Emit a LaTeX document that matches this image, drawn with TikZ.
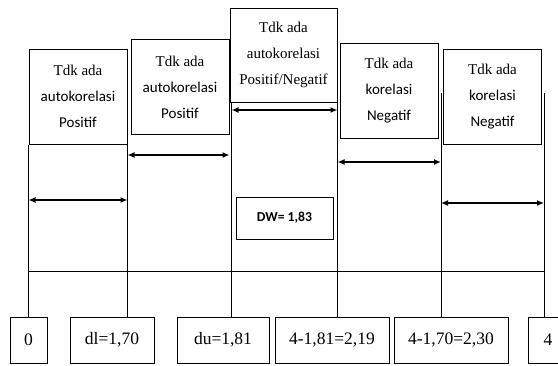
\documentclass[tikz,border=0pt]{standalone}
\usepackage{fontspec}
\setmainfont{Liberation Serif}
\newfontfamily\calib{Carlito}
\usetikzlibrary{arrows.meta}
\begin{document}
\begin{tikzpicture}[x=1pt, y=-1pt, line width=1pt,
    kotak/.style={draw, inner sep=0pt, align=center, minimum width=98pt, minimum height=95pt, font=\fontsize{15}{26}\selectfont},
    batas/.style={draw, inner sep=0pt, minimum height=46pt, font=\fontsize{17.5}{19}\selectfont},
    panah/.style={{Latex[length=7pt,width=6pt]}-{Latex[length=7pt,width=6pt]}, line width=1.3pt}]
  \useasboundingbox (0,0) rectangle (558,365);

  % 1. kotak keputusan di atas
  \node[kotak] (posA) at (78,96.5) {Tdk ada\\{\calib autokorelasi}\\{\calib Positif}};
  \node[kotak] (posB) at (180,87) {Tdk ada\\{\calib autokorelasi}\\{\calib Positif}};
  \node[kotak, minimum width=107pt, minimum height=94pt] (ragu) at (283.5,55) {Tdk ada\\autokorelasi\\Positif/Negatif};
  \node[kotak] (negA) at (389,90.5) {Tdk ada\\{\calib korelasi}\\{\calib Negatif}};
  \node[kotak] (negB) at (492.5,96.5) {Tdk ada\\{\calib korelasi}\\{\calib Negatif}};

  % 2. nilai batas di bawah
  \node[batas, minimum width=37pt] (t0) at (28.5,340) {0};
  \node[batas, minimum width=84pt] (tdl) at (112,340) {dl=1,70};
  \node[batas, minimum width=92pt] (tdu) at (223,340) {du=1,81};
  \node[batas, minimum width=114pt] (tdu4) at (332,340) {4-1,81=2,19};
  \node[batas, minimum width=114pt] (tdl4) at (451,340) {4-1,70=2,30};
  \node[batas, minimum width=40pt] (t4) at (548,340) {4};

  % 3. nilai DW
  \node[draw, minimum width=97pt, minimum height=42pt, font=\calib\bfseries\fontsize{13.7}{15}\selectfont] (dw) at (284.5,218) {DW= 1,83};

  % 4. garis tegak dan garis mendatar
  \coordinate (r1) at (441,93);
  \coordinate (r2) at (544,93);
  \draw (posA.south west) -- (posA.south west |- t0.north);
  \draw (posA.south east) -- (posA.south east |- tdl.north);
  \draw ([xshift=2pt]ragu.south west) -- ([xshift=2pt]ragu.south west |- tdu.north);
  \draw (ragu.south east) -- (ragu.south east |- tdu4.north);
  \draw (r1) -- (r1 |- tdl4.north);
  \draw (r2) -- (r2 |- t4.north);
  \draw (posA.south west |- 0,271) -- (r2 |- 0,271);

  % 5. panah daerah
  \draw[panah] (posA.south west |- 0,200) -- (posA.south east |- 0,200);
  \draw[panah] (posA.south east |- 0,155) -- (ragu.south west |- 0,155);
  \draw[panah] ([xshift=2pt]ragu.south west |- 0,110) -- (ragu.south east |- 0,110);
  \draw[panah] (ragu.south east |- 0,162) -- (r1 |- 0,162);
  \draw[panah] (r1 |- 0,203) -- (r2 |- 0,203);
\end{tikzpicture}
\end{document}
